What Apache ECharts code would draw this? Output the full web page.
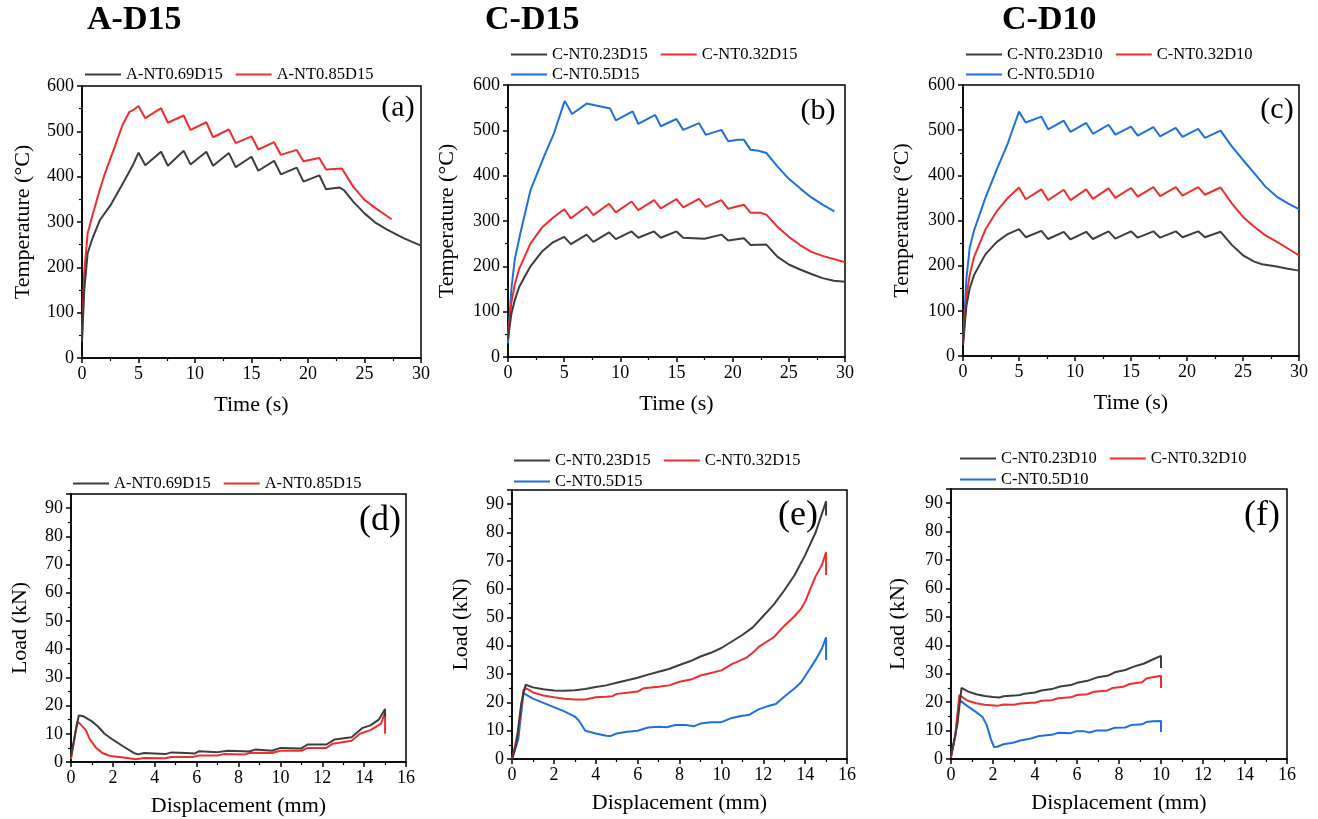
<!DOCTYPE html>
<html>
<head>
<meta charset="utf-8">
<script src="https://cdn.jsdelivr.net/npm/echarts@6/dist/echarts.min.js"></script>
<style>
html,body{margin:0;padding:0;background:#fff;}
#chart{width:1318px;height:819px;}
</style>
</head>
<body>
<div id="chart"></div>
<script>
// ---------- DATA ----------
const panelTitles = ['A-D15', 'C-D15', 'C-D10'];
const panelLabels = ['(a)', '(b)', '(c)', '(d)', '(e)', '(f)'];
const tempTicks = [0, 100, 200, 300, 400, 500, 600];
const timeTicks = [0, 5, 10, 15, 20, 25, 30];
const loadTicks = [0, 10, 20, 30, 40, 50, 60, 70, 80, 90];
const dispTicks = [0, 2, 4, 6, 8, 10, 12, 14, 16];

const namesA = ['A-NT0.69D15', 'A-NT0.85D15'];
const namesC15 = ['C-NT0.23D15', 'C-NT0.32D15', 'C-NT0.5D15'];
const namesC10 = ['C-NT0.23D10', 'C-NT0.32D10', 'C-NT0.5D10'];

// (a) temperature, A-D15
const tA069 = [[0,37],[0.2,150],[0.5,231],[0.9,262],[1.6,305],[2.5,336],[3.5,380],[4.5,425],[5,453],[5.6,425],[7,455],[7.6,424],[9,457],[9.6,427],[11,455],[11.6,424],[13,452],[13.6,421],[15,444],[15.6,413],[17,435],[17.6,405],[19,420],[19.6,389],[21,403],[21.6,372],[22.8,376],[23.2,370],[24,345],[25,319],[26,298],[27,283],[28.5,264],[30,248]];
const tA085 = [[0,45],[0.2,190],[0.5,275],[0.9,312],[1.5,365],[2,405],[2.8,459],[3.6,515],[4.2,543],[4.6,548],[5,556],[5.6,529],[7,551],[7.6,519],[9,535],[9.6,503],[11,520],[11.6,487],[13,504],[13.6,474],[15,489],[15.6,460],[17,476],[17.6,448],[19,459],[19.6,434],[21,441],[21.6,416],[23,418],[24,378],[25,349],[26,330],[27.4,306]];

// (b) temperature, C-D15
const tC023D15 = [[0,40],[0.3,95],[0.6,125],[1,155],[2,200],[3,232],[4,253],[5,265],[5.6,249],[7,270],[7.6,254],[9,275],[9.6,260],[11,277],[11.6,263],[13,277],[13.6,263],[15,277],[15.6,263],[17.5,261],[19,270],[19.6,257],[21,262],[21.6,247],[23,248],[24,221],[25,204],[26,193],[27,183],[28,174],[29,168],[30,166]];
const tC032D15 = [[0,50],[0.3,120],[0.6,160],[1,195],[2,250],[3,285],[4,307],[5,326],[5.6,306],[7,332],[7.6,313],[9,338],[9.6,319],[11,343],[11.6,324],[13,346],[13.6,328],[15,348],[15.6,330],[17,349],[17.6,331],[19,346],[19.6,327],[21,336],[21.6,318],[22.5,318],[23,314],[24,287],[25,265],[26,247],[27,232],[28,223],[30,209]];
const tC05D15 = [[0,30],[0.3,150],[0.6,215],[1.1,273],[2,368],[3.2,442],[4.1,494],[5.05,565],[5.7,536],[7,559],[9.1,548],[9.6,522],[11.1,542],[11.6,514],[13.1,534],[13.6,509],[15,525],[15.6,501],[17,516],[17.6,490],[19,501],[19.6,476],[20.5,479],[21,479],[21.6,457],[22.3,455],[23,450],[24,420],[25,393],[26,372],[27,352],[28,336],[29.05,321]];

// (c) temperature, C-D10
const tC023D10 = [[0,25],[0.3,110],[0.6,150],[1,180],[2,225],[3,252],[4,270],[5,281],[5.6,263],[7,277],[7.6,259],[9,275],[9.6,258],[11,275],[11.6,259],[13,276],[13.6,260],[15,276],[15.6,262],[17,276],[17.6,262],[19,276],[19.6,263],[21,276],[21.6,263],[23,275],[24,246],[25,223],[26,209],[26.7,203],[28,198],[29,193],[30,189]];
const tC032D10 = [[0,30],[0.3,130],[0.6,180],[1,220],[2,280],[3,320],[4,350],[5,373],[5.6,347],[7,369],[7.6,345],[9,368],[9.6,345],[11,369],[11.6,348],[13,371],[13.6,350],[15,372],[15.6,353],[17,374],[17.6,354],[19,374],[19.6,355],[21,374],[21.6,357],[23,373],[24,338],[25,308],[26,286],[27,267],[28,253],[29,238],[30,223]];
const tC05D10 = [[0,25],[0.3,170],[0.6,240],[1,279],[2,350],[3,412],[4,471],[5,541],[5.6,517],[7,530],[7.6,502],[9,521],[9.6,496],[11,516],[11.6,492],[13,512],[13.6,490],[15,508],[15.6,488],[17,507],[17.6,486],[19,505],[19.6,485],[21,503],[21.6,483],[23,499],[24,464],[25,434],[26,405],[27,375],[28,353],[29,338],[30,325]];

// (d) load, A-D15
const lA069 = [[0,2],[0.2,10],[0.37,16.5],[0.6,16.2],[1,14.4],[1.3,12.5],[1.6,10],[2,7.9],[2.5,5.5],[3,3.2],[3.2,2.7],[3.5,3.2],[4,3.0],[4.5,2.8],[4.8,3.4],[5.5,3.2],[5.9,3.0],[6.1,3.8],[7,3.5],[7.5,4.0],[8.5,3.7],[8.8,4.4],[9.6,4.0],[10,5.0],[11,4.8],[11.3,6.2],[12.2,6.2],[12.6,8.0],[13.4,8.8],[13.9,12],[14.3,13],[14.7,15],[15,18.8],[15,16]];
const lA085 = [[0,1],[0.3,14.4],[0.5,13],[0.7,11.4],[0.9,8],[1.2,5],[1.5,3.2],[1.8,2.3],[2,2],[2.5,1.6],[3.1,1.0],[3.5,1.4],[4.5,1.3],[4.8,1.8],[5.8,1.8],[6.1,2.3],[7,2.3],[7.3,2.8],[8.3,2.7],[8.6,3.3],[9.6,3.2],[10,4.0],[11,4.0],[11.3,5.0],[12.2,5.0],[12.5,6.5],[13.4,7.5],[13.8,10],[14.3,11.3],[14.8,13.5],[15,17.5],[15,10]];

// (e) load, C-D15
const lC023D15 = [[0,0],[0.2,5],[0.45,20],[0.65,26.2],[1,25.3],[1.5,24.6],[2,24.2],[2.5,24.1],[3,24.3],[3.5,24.7],[4,25.4],[4.5,26],[5,26.9],[5.5,27.8],[6,28.7],[6.5,29.8],[7,30.8],[7.5,31.8],[8,33.2],[8.5,34.5],[9,36.2],[9.5,37.5],[10,39.2],[10.5,41.5],[11,43.8],[11.5,46.5],[12,50.5],[12.5,54.5],[13,59.5],[13.5,65],[14,72],[14.5,80],[15,91],[15,86]];
const lC032D15 = [[0,0],[0.3,10],[0.55,24.5],[0.7,24.9],[1,23.5],[1.5,22.4],[2,21.8],[2.5,21.3],[3,21.0],[3.5,21.0],[4,21.8],[4.5,22],[4.8,22.2],[5,23],[5.5,23.4],[6,23.8],[6.3,25],[7,25.5],[7.5,26],[8,27.3],[8.6,28.2],[9,29.5],[9.5,30.4],[10,31.3],[10.5,33.5],[11.2,35.8],[11.5,37.5],[11.8,39.7],[12.5,43],[13,47],[13.5,50.5],[13.8,53],[14,55.5],[14.3,61],[14.5,64.5],[14.8,68.5],[15,73],[15,65]];
const lC05D15 = [[0,0],[0.3,7],[0.55,23.3],[1,21.3],[1.5,19.8],[2,18.3],[2.5,16.8],[3,15.0],[3.2,13.5],[3.5,10],[4,9],[4.5,8.2],[4.7,8.1],[5,9],[5.5,9.6],[6,10],[6.5,11.1],[7,11.4],[7.4,11.2],[7.8,12],[8.3,12],[8.7,11.6],[9,12.5],[9.5,13],[10,13],[10.5,14.5],[11,15.3],[11.3,15.5],[11.8,17.6],[12.2,18.6],[12.6,19.4],[13,22],[13.5,25],[13.8,27],[14.2,31.5],[14.5,35],[14.8,39],[15,43],[15,35]];

// (f) load, C-D10
const lC023D10 = [[0,1],[0.3,12],[0.5,25],[0.8,23.8],[1.2,22.8],[1.6,22.2],[2,21.8],[2.3,21.6],[2.5,22.1],[3,22.3],[3.3,22.5],[3.5,23],[4,23.4],[4.3,24.1],[4.8,24.6],[5.2,25.5],[5.7,26],[6,26.8],[6.5,27.5],[7,28.8],[7.5,29.4],[7.8,30.5],[8.3,31.3],[8.7,32.5],[9.2,33.6],[9.6,35],[10,36.3],[10,32]];
const lC032D10 = [[0,0.5],[0.2,8],[0.4,22.5],[0.8,20.5],[1.2,19.6],[1.6,19.1],[2.2,18.7],[2.5,19.2],[3,19.1],[3.3,19.5],[3.8,19.8],[4,19.8],[4.3,20.5],[4.8,20.7],[5.1,21.4],[5.7,21.7],[6,22.5],[6.5,22.8],[6.8,23.7],[7.4,24],[7.7,25],[8.2,25.4],[8.5,26.4],[9.1,27],[9.3,28.3],[9.6,28.8],[10,29.3],[10,25]];
const lC05D10 = [[0,1],[0.2,8],[0.4,20.7],[0.8,18.5],[1.2,16.5],[1.5,14.8],[1.7,12],[1.9,7],[2.05,4.2],[2.2,4.3],[2.5,5.2],[3,5.8],[3.3,6.5],[3.8,7.2],[4.2,8.1],[4.8,8.5],[5.1,9.2],[5.7,9.1],[6,9.8],[6.3,9.8],[6.6,9.3],[6.9,10],[7.4,10],[7.8,11],[8.3,11.1],[8.6,12],[9.1,12.2],[9.3,13],[9.6,13.3],[10,13.4],[10,9.5]];

// ---------- STYLE ----------
const FONT = 'Liberation Serif';
const COLORS = ['#3d3d3d', '#ee2e2e', '#1f6fdc'];

const grids = [
  {left: 82, top: 86, width: 339, height: 272},
  {left: 508, top: 85, width: 337, height: 272},
  {left: 963, top: 85, width: 336, height: 271},
  {left: 71, top: 494, width: 335, height: 268},
  {left: 512, top: 490, width: 335, height: 269},
  {left: 951, top: 489, width: 336, height: 270}
];
const yNameGap = [48, 50, 50, 40, 40, 42];
const xNameGap = [36, 36, 36, 33, 33, 33];

const panels = [
  {names: namesA, data: [tA069, tA085], temp: true},
  {names: namesC15, data: [tC023D15, tC032D15, tC05D15], temp: true},
  {names: namesC10, data: [tC023D10, tC032D10, tC05D10], temp: true},
  {names: namesA, data: [lA069, lA085], temp: false},
  {names: namesC15, data: [lC023D15, lC032D15, lC05D15], temp: false},
  {names: namesC10, data: [lC023D10, lC032D10, lC05D10], temp: false}
];

const axisLineStyle = {color: '#000', width: 1.5};
const xAxes = [], yAxes = [], series = [];
panels.forEach((p, i) => {
  const xt = p.temp ? timeTicks : dispTicks;
  const yt = p.temp ? tempTicks : loadTicks;
  xAxes.push({
    gridIndex: i, type: 'value',
    min: xt[0], max: xt[xt.length - 1], interval: xt[1] - xt[0],
    name: p.temp ? 'Time (s)' : 'Displacement (mm)',
    nameLocation: 'middle', nameGap: xNameGap[i],
    nameTextStyle: {fontFamily: FONT, fontSize: 22, color: '#000'},
    axisLine: {show: true, onZero: false, lineStyle: axisLineStyle},
    axisTick: {show: true, inside: false, length: 5, lineStyle: axisLineStyle},
    minorTick: {show: true, splitNumber: 2, length: 3, lineStyle: {color: '#000', width: 1.2}},
    splitLine: {show: false},
    axisLabel: {fontFamily: FONT, fontSize: 18, color: '#000', margin: 7}
  });
  yAxes.push({
    gridIndex: i, type: 'value',
    min: 0, max: p.temp ? 600 : 95, interval: yt[1] - yt[0],
    name: p.temp ? 'Temperature (°C)' : 'Load (kN)',
    nameLocation: 'middle', nameGap: yNameGap[i],
    nameTextStyle: {fontFamily: FONT, fontSize: 22, color: '#000'},
    axisLine: {show: true, onZero: false, lineStyle: axisLineStyle},
    axisTick: {show: true, inside: false, length: 5, lineStyle: axisLineStyle},
    minorTick: {show: true, splitNumber: 2, length: 3, lineStyle: {color: '#000', width: 1.2}},
    splitLine: {show: false},
    axisLabel: {fontFamily: FONT, fontSize: 18, color: '#000', margin: 8,
      formatter: v => (yt.indexOf(v) >= 0 ? String(v) : '')}
  });
  p.data.forEach((d, k) => {
    series.push({
      type: 'line', name: p.names[k], xAxisIndex: i, yAxisIndex: i,
      data: d, showSymbol: false, symbol: 'none', color: COLORS[k],
      lineStyle: {width: 2, color: COLORS[k]}, animation: false, z: 3 - k
    });
  });
});

const legendBase = {
  orient: 'horizontal', icon: 'rect', itemWidth: 36, itemHeight: 2, itemGap: 13,
  textStyle: {fontFamily: FONT, fontSize: 16.5, color: '#000', padding: [0, 0, 0, 0]},
  padding: 0, selectedMode: false
};
const legends = [
  Object.assign({}, legendBase, {left: 85, top: 66, data: namesA}),
  Object.assign({}, legendBase, {left: 511, top: 46, data: namesC15.slice(0, 2)}),
  Object.assign({}, legendBase, {left: 511, top: 66, data: namesC15.slice(2)}),
  Object.assign({}, legendBase, {left: 966, top: 46, data: namesC10.slice(0, 2)}),
  Object.assign({}, legendBase, {left: 966, top: 66, data: namesC10.slice(2)}),
  Object.assign({}, legendBase, {left: 73, top: 475, data: namesA}),
  Object.assign({}, legendBase, {left: 514, top: 452, data: namesC15.slice(0, 2)}),
  Object.assign({}, legendBase, {left: 514, top: 473, data: namesC15.slice(2)}),
  Object.assign({}, legendBase, {left: 960, top: 450, data: namesC10.slice(0, 2)}),
  Object.assign({}, legendBase, {left: 960, top: 471, data: namesC10.slice(2)})
];

const titlePos = [[87, 22], [485, 22], [1002, 22]];
const labelPos = [[398, 108, 30], [818, 111, 30], [1277, 110, 30], [380, 521, 36], [798, 516, 36], [1262, 516, 36]];
const graphics = [];
panelTitles.forEach((t, i) => graphics.push({
  type: 'text', left: titlePos[i][0], top: titlePos[i][1] - 19,
  style: {text: t, font: 'bold 34px "' + FONT + '"', fill: '#000'}
}));
panelLabels.forEach((t, i) => graphics.push({
  type: 'text', x: labelPos[i][0], y: labelPos[i][1],
  style: {text: t, font: labelPos[i][2] + 'px "' + FONT + '"', fill: '#000', textAlign: 'center', textVerticalAlign: 'middle'}
}));

const chart = echarts.init(document.getElementById('chart'), null, {renderer: 'canvas'});
chart.setOption({
  backgroundColor: '#fff',
  animation: false,
  grid: grids.map(g => Object.assign({show: true, borderColor: '#000', borderWidth: 1.5, backgroundColor: 'transparent', containLabel: false}, g)),
  xAxis: xAxes,
  yAxis: yAxes,
  legend: legends,
  series: series,
  graphic: graphics
});
</script>
</body>
</html>
